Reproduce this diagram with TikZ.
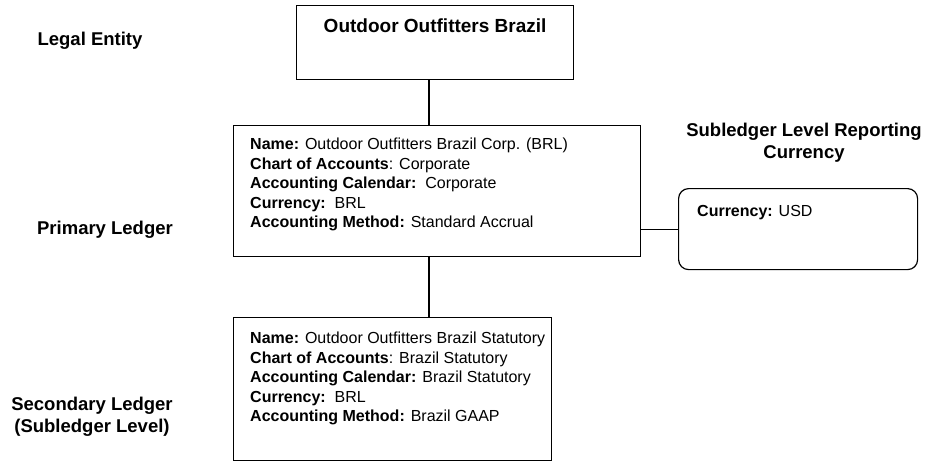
\documentclass[tikz,border=0pt]{standalone}
\usepackage{fontspec}
\setmainfont{Liberation Sans}
\usetikzlibrary{positioning}

\begin{document}
\begin{tikzpicture}[
    x=1pt,
    y=-1pt,
    level label/.style={font=\bfseries\fontsize{18.5}{22}\selectfont,align=center},
    entity box/.style={rectangle,draw,line width=1.2pt,anchor=north west,inner sep=0pt},
    ledger box/.style={rectangle,draw,line width=1.2pt,anchor=north west,inner sep=0pt},
    currency box/.style={rectangle,draw,line width=1.2pt,rounded corners=10pt,anchor=north west,inner sep=0pt},
    field list/.style={inner sep=0pt,align=left,font=\fontsize{16}{19.5}\selectfont},
    link/.style={line width=1.1pt}
]
\useasboundingbox (0,0) rectangle (932,463);

% Boxes
\node[entity box, minimum width=277pt, minimum height=74pt] (entity) at (296,5) {};
\node[ledger box, minimum width=407pt, minimum height=131pt] (primary) at (233,125) {};
\node[ledger box, minimum width=318pt, minimum height=143pt] (secondary) at (233,317) {};
\node[currency box, minimum width=239pt, minimum height=81pt] (reporting) at (678,188) {};

% Box contents
\node[below=14pt of entity.north, inner sep=0pt, font=\bfseries\fontsize{19}{22}\selectfont] (entity name) {Outdoor Outfitters Brazil};
\node[field list, below right=13pt and 17pt of primary.north west] (primary fields) {%
    \textbf{Name:} Outdoor Outfitters Brazil Corp. (BRL)\\
    \textbf{Chart of Accounts}: Corporate\\
    \textbf{Accounting Calendar:}~~Corporate\\
    \textbf{Currency:}~~BRL\\
    \textbf{Accounting Method:} Standard Accrual};
\node[field list, below right=15pt and 17pt of secondary.north west] (secondary fields) {%
    \textbf{Name:} Outdoor Outfitters Brazil Statutory\\
    \textbf{Chart of Accounts}: Brazil Statutory\\
    \textbf{Accounting Calendar:} Brazil Statutory\\
    \textbf{Currency:}~~BRL\\
    \textbf{Accounting Method:} Brazil GAAP};
\node[field list, below right=17pt and 19pt of reporting.north west] (reporting fields) {%
    \textbf{Currency:} USD};

% Level labels
\node[level label] (legal label) at (90,41) {Legal Entity};
\node[level label] (primary label) at (105,230) {Primary Ledger};
\node[level label] (secondary label) at (92,417) {Secondary Ledger\\(Subledger Level)};
\node[level label] (reporting label) at (804,143) {Subledger Level Reporting\\Currency};

% Connectors
\coordinate (spine) at (429,0);
\draw[link] (spine |- entity.south) -- (spine |- primary.north);
\draw[link] (spine |- primary.south) -- (spine |- secondary.north);
\draw[link] (reporting.west -| primary.east) -- (reporting.west);

\end{tikzpicture}
\end{document}
